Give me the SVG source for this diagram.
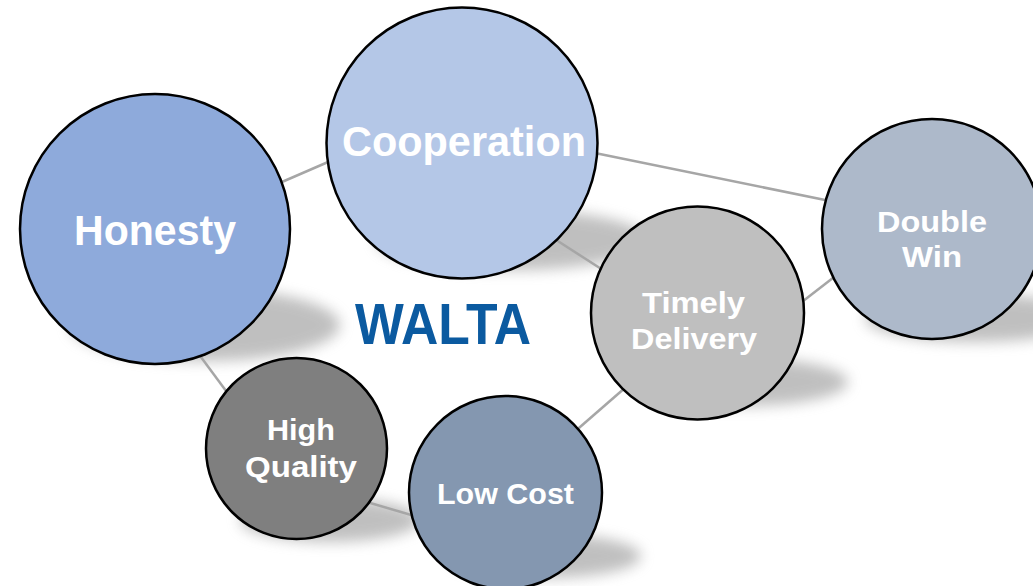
<svg xmlns="http://www.w3.org/2000/svg" width="1033" height="586" viewBox="0 0 1033 586">
<defs>
<filter id="blur" x="-50%" y="-50%" width="200%" height="200%"><feGaussianBlur stdDeviation="7"/></filter>
<style>
.sh{fill:#8c8c8c;opacity:0.55;filter:url(#blur)}
.c{stroke:#000;stroke-width:2.5}
.lbl{font-family:"Liberation Sans",Arial,sans-serif;font-weight:bold;fill:#fff;text-anchor:middle}
.ln{stroke:#a6a6a6;stroke-width:2.5;fill:none}
</style>
</defs>
<rect width="1033" height="586" fill="#fff"/>
<g id="shadows">
<ellipse class="sh" cx="205" cy="325" rx="135" ry="36"/>
<ellipse class="sh" cx="512" cy="240" rx="136" ry="30"/>
<ellipse class="sh" cx="742" cy="382" rx="106" ry="24"/>
<ellipse class="sh" cx="975" cy="318" rx="110" ry="24"/>
<ellipse class="sh" cx="330" cy="520" rx="90" ry="22"/>
<ellipse class="sh" cx="545" cy="556" rx="96" ry="22"/>
</g>
<g id="connectors">
<line class="ln" x1="275" y1="185" x2="335" y2="159"/>
<line class="ln" x1="590" y1="152" x2="830" y2="201"/>
<line class="ln" x1="550" y1="236" x2="606" y2="272"/>
<line class="ln" x1="798" y1="305" x2="838" y2="274"/>
<line class="ln" x1="195" y1="349" x2="232" y2="399"/>
<line class="ln" x1="360" y1="500" x2="418" y2="517"/>
<line class="ln" x1="572" y1="434" x2="626" y2="387"/>
</g>
<g id="honesty">
<circle class="c" cx="155" cy="229" r="135" fill="#8eaadb"/>
<text class="lbl" x="155" y="245" font-size="42" textLength="162" lengthAdjust="spacingAndGlyphs">Honesty</text>
</g>
<g id="cooperation">
<circle class="c" cx="462" cy="143" r="135.5" fill="#b4c7e7"/>
<text class="lbl" x="464" y="156" font-size="42" textLength="244" lengthAdjust="spacingAndGlyphs">Cooperation</text>
</g>
<g id="double-win">
<circle class="c" cx="932" cy="229" r="110" fill="#adb9ca"/>
<text class="lbl" x="932" y="232" font-size="30" textLength="110" lengthAdjust="spacingAndGlyphs">Double</text>
<text class="lbl" x="932" y="267" font-size="30" textLength="60" lengthAdjust="spacingAndGlyphs">Win</text>
</g>
<g id="timely-delivery">
<circle class="c" cx="697.5" cy="313" r="106.5" fill="#bfbfbf"/>
<text class="lbl" x="693.5" y="313" font-size="30" textLength="103" lengthAdjust="spacingAndGlyphs" fill="#f2f2f2">Timely</text>
<text class="lbl" x="694" y="349" font-size="30" textLength="126" lengthAdjust="spacingAndGlyphs" fill="#f2f2f2">Delivery</text>
</g>
<g id="high-quality">
<circle class="c" cx="296.5" cy="448.5" r="90.5" fill="#7f7f7f"/>
<text class="lbl" x="301" y="440" font-size="30" textLength="68" lengthAdjust="spacingAndGlyphs">High</text>
<text class="lbl" x="301" y="477" font-size="30" textLength="112" lengthAdjust="spacingAndGlyphs">Quality</text>
</g>
<g id="low-cost">
<circle class="c" cx="505.5" cy="492.5" r="96.5" fill="#8497b0"/>
<text class="lbl" x="505.5" y="504" font-size="30" textLength="137" lengthAdjust="spacingAndGlyphs">Low Cost</text>
</g>
<g id="title">
<text x="443" y="344" font-family="'Liberation Sans',Arial,sans-serif" font-weight="bold" font-size="57" fill="#0b5aa0" text-anchor="middle" textLength="176" lengthAdjust="spacingAndGlyphs">WALTA</text>
</g>
</svg>
